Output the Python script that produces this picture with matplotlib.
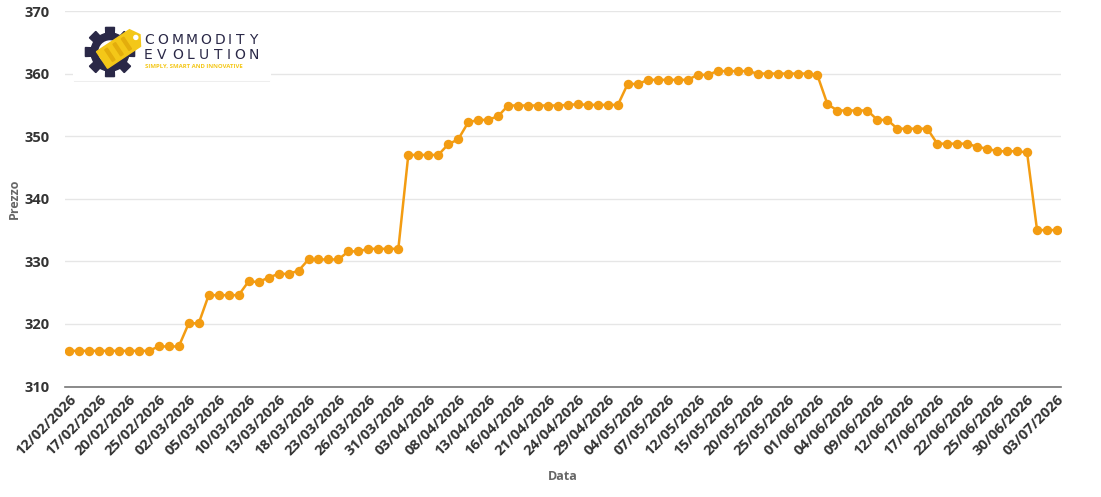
import matplotlib
matplotlib.use("Agg")
import matplotlib.pyplot as plt
from matplotlib.patches import Circle, Rectangle, Polygon
from matplotlib.textpath import TextPath
from matplotlib.font_manager import FontProperties
import numpy as np

# ---- data ----
prices = [
    315.7, 315.7, 315.7, 315.7, 315.7, 315.7, 315.7, 315.7, 315.7,
    316.4, 316.4, 316.4,
    320.1, 320.1,
    324.6, 324.6, 324.6, 324.6,
    326.8, 326.7, 327.4, 328.0, 328.0, 328.5,
    330.3, 330.3, 330.3, 330.3,
    331.6, 331.6,
    332.0, 332.0, 332.0, 332.0,
    347.0, 347.0, 347.0, 347.0,
    348.7, 349.5, 352.2, 352.6, 352.6, 353.2,
    354.9, 354.9, 354.9, 354.9,
    354.9, 354.9, 355.0, 355.1, 355.0, 355.0, 355.0, 355.0,
    358.4, 358.3,
    359.0, 359.0, 359.0, 359.0, 359.0,
    359.8, 359.8,
    360.4, 360.4, 360.4, 360.4,
    360.0, 360.0, 360.0, 360.0, 360.0, 360.0,
    359.7, 355.1,
    354.1, 354.1, 354.1, 354.1,
    352.6, 352.6,
    351.2, 351.2, 351.2, 351.2,
    348.8, 348.8, 348.8, 348.8,
    348.3, 348.0,
    347.6, 347.6, 347.6, 347.4,
    335.0, 335.0, 335.0,
]
tick_labels = [
    "12/02/2026", "17/02/2026", "20/02/2026", "25/02/2026", "02/03/2026",
    "05/03/2026", "10/03/2026", "13/03/2026", "18/03/2026", "23/03/2026",
    "26/03/2026", "31/03/2026", "03/04/2026", "08/04/2026", "13/04/2026",
    "16/04/2026", "21/04/2026", "24/04/2026", "29/04/2026", "04/05/2026",
    "07/05/2026", "12/05/2026", "15/05/2026", "20/05/2026", "25/05/2026",
    "01/06/2026", "04/06/2026", "09/06/2026", "12/06/2026", "17/06/2026",
    "22/06/2026", "25/06/2026", "30/06/2026", "03/07/2026",
]
y_ticks = [310, 320, 330, 340, 350, 360, 370]
tick_step = 3

plt.rcParams['font.family'] = ['Open Sans', 'DejaVu Sans']

fig = plt.figure(figsize=(11.01, 4.97), dpi=100)
ax = fig.add_axes([65/1101, 1-386.5/497, (1061-65)/1101, (386.5-11)/497])

x = np.arange(len(prices))
ax.plot(x, prices, color='#f39c12', lw=1.8, marker='o', ms=6.8,
        markeredgewidth=0, zorder=3)

ax.set_xlim(-0.4, len(prices) - 1 + 0.4)
ax.set_ylim(y_ticks[0], y_ticks[-1])
ax.set_yticks(y_ticks)
ax.set_yticklabels([str(v) for v in y_ticks], fontsize=10.5,
                   fontweight='bold', color='#333333')
ax.grid(axis='y', color='#e6e6e6', lw=1)
ax.set_axisbelow(True)
for s in ['top', 'right', 'left']:
    ax.spines[s].set_visible(False)
ax.spines['bottom'].set_color('#777777')
ax.spines['bottom'].set_linewidth(1.2)
ax.tick_params(axis='y', length=0, pad=11)
ax.tick_params(axis='x', length=0, pad=4)

ticks = x[::tick_step]
ax.set_xticks(ticks)
ax.set_xticklabels(tick_labels, rotation=45, ha='right', va='top',
                   rotation_mode='anchor', fontsize=10.5,
                   fontweight='bold', color='#333333')

ax.set_ylabel("Prezzo", fontsize=9, fontweight='bold', color='#666666')
ax.yaxis.set_label_coords(-0.044, 0.5)
fig.text(563/1101, 1-476/497, "Data", fontsize=9, fontweight='bold',
         color='#666666', ha='center', va='center')

# ---- logo ----
lax = fig.add_axes([73/1101, 1-82/497, 200/1101, 58/497])
lax.set_xlim(0, 200)
lax.set_ylim(0, 58)
lax.axis('off')
lax.add_patch(Rectangle((0, 0), 198, 58, facecolor='white',
                        edgecolor='none'))
lax.plot([2, 196], [0.5, 0.5], color='#eeeeee', lw=1.5)
navy = '#2a2847'
cx, cy = 37, 30
for ang in np.arange(0, 360, 45):
    a = np.radians(ang)
    pts = []
    for r, da in [(17, -0.25), (25, -0.18), (25, 0.18), (17, 0.25)]:
        pts.append((cx + r*np.cos(a+da), cy + r*np.sin(a+da)))
    lax.add_patch(Polygon(pts, closed=True, color=navy))
lax.add_patch(Circle((cx, cy), 19, color=navy))
lax.add_patch(Circle((cx, cy), 11, color='white'))
A = np.array([29.0, 22.0])
B = np.array([62.0, 44.0])
u = (B - A) / np.linalg.norm(B - A)
n = np.array([-u[1], u[0]])
hw = 10
tag_pts = [A - hw*n, B - hw*n, B + u*6, B + hw*n, A + hw*n]
lax.add_patch(Polygon(tag_pts, closed=True, color='#f4c718', zorder=3))
for t in [0.2, 0.45, 0.7]:
    p = A + (B - A)*t
    bar = [p - 7*n, p - 7*n + 3*u, p + 7*n + 3*u, p + 7*n]
    lax.add_patch(Polygon(bar, closed=True, color='#e3ad0c', zorder=4))
lax.add_patch(Circle(tuple(B + u*1), 2, color='white', zorder=5))

fp = FontProperties(family='DejaVu Sans')


def spaced(word, x0, x1, yc, fs):
    size_px = fs * 100 / 72
    widths = [TextPath((0, 0), ch, size=size_px, prop=fp).get_extents().width
              for ch in word]
    gap = (x1 - x0 - sum(widths)) / (len(word) - 1)
    xp = x0
    for ch, w in zip(word, widths):
        lax.text(xp + w/2, yc, ch, fontsize=fs, color=navy, ha='center',
                 va='center', family='DejaVu Sans')
        xp += w + gap


spaced("COMMODITY", 72, 185, 42, 10)
spaced("EVOLUTION", 72, 185, 27, 10)
lax.text(72, 16, "SIMPLY, SMART AND INNOVATIVE", fontsize=4.3,
         color='#f4c718', ha='left', va='center', fontweight='bold')

fig.savefig("out.png", dpi=100)
